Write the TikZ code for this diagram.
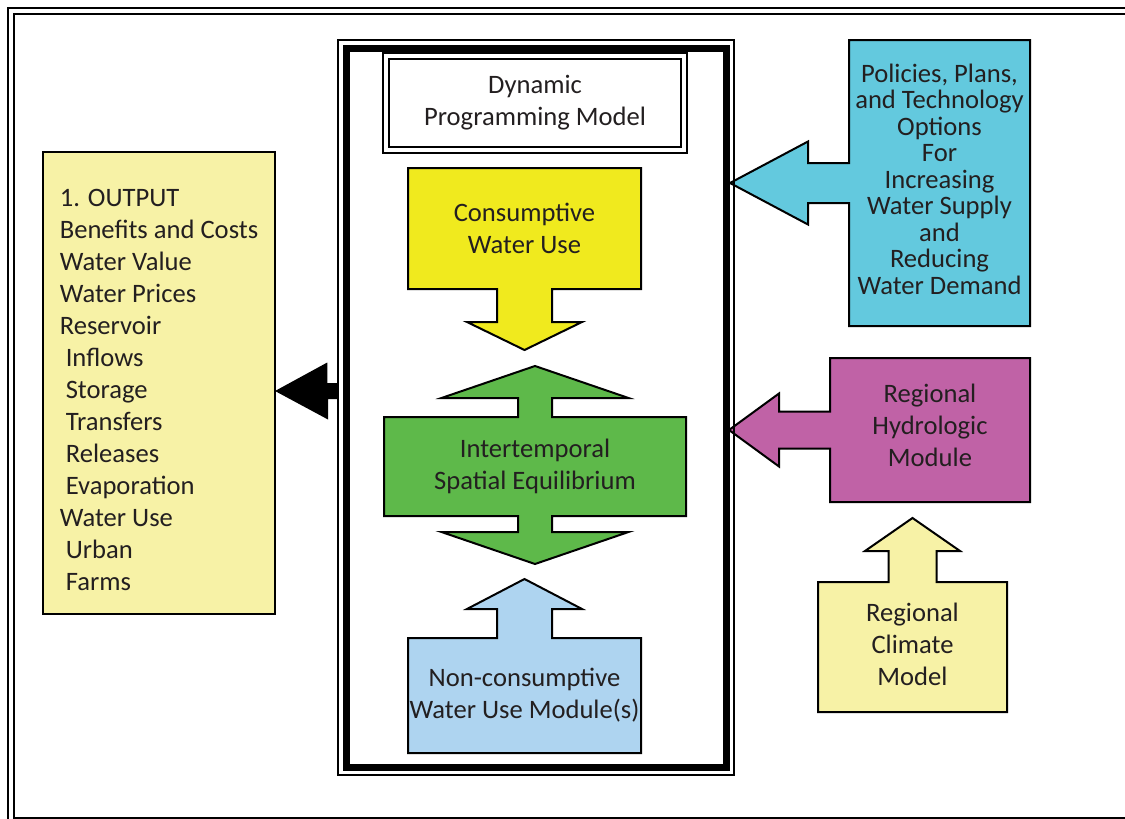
\documentclass[tikz,border=0pt]{standalone}
\usepackage{fontspec}
\setmainfont{Carlito}
\usetikzlibrary{calc,backgrounds}
\definecolor{ink}{RGB}{35,31,32}
\definecolor{paleyel}{RGB}{247,242,166}
\definecolor{sunyel}{RGB}{240,234,30}
\definecolor{leafgrn}{RGB}{94,185,74}
\definecolor{skyblu}{RGB}{174,212,240}
\definecolor{tealcyan}{RGB}{99,201,222}
\definecolor{plum}{RGB}{192,98,166}

\begin{document}
\begin{tikzpicture}[x=0.5pt,y=-0.5pt,
    box/.style={draw=none,inner sep=0pt,outer sep=0pt,align=center,text=ink,font=\fontsize{13.3}{16}\selectfont},
    shp/.style={draw=black,line width=1pt,line join=miter}]
  \useasboundingbox (0,0) rectangle (1125,819);
  \clip (0,0) rectangle (1125,819);

  % page frame
  \draw[line width=1pt] (8,8) rectangle (1140,840);
  \draw[line width=1pt] (13.5,13.5) rectangle (1135,817.5);

  % model frame
  \node[draw,line width=0.75pt,minimum width=198pt,minimum height=367.5pt] (frame) at (536,407.5) {};
  \node[draw,line width=3.5pt,minimum width=190pt,minimum height=359.25pt] (core) at (536.5,407.75) {};

  \node[box,draw=black,line width=0.9pt,double,double distance=2pt,minimum width=149pt,minimum height=47.25pt] (dp) at (535,103) {Dynamic\\Programming Model};

  \node[box,minimum width=116.5pt,minimum height=60.5pt] (cons) at (524.5,228.5) {Consumptive\\Water Use};
  \node[box,minimum width=151pt,minimum height=49.5pt] (eq) at (535,466.5) {Intertemporal\\Spatial Equilibrium};
  \node[box,minimum width=116.5pt,minimum height=57.5pt] (non) at (524.5,695.5) {Non-consumptive\\Water Use Module(s)};

  % inputs and output
  \node[box,draw=black,line width=1pt,fill=paleyel,align=left,minimum width=116pt,minimum height=231pt] (out) at (159,383)
    {\rule{0pt}{15.6pt}1. OUTPUT\\Benefits and Costs\\Water Value\\Water Prices\\Reservoir\\\hspace{3pt}Inflows\\\hspace{3pt}Storage\\\hspace{3pt}Transfers\\\hspace{3pt}Releases\\\hspace{3pt}Evaporation\\Water Use\\\hspace{3pt}Urban\\\hspace{3pt}Farms};
  \node[box,font=\fontsize{13.3}{13.25}\selectfont,minimum width=90.5pt,minimum height=143pt] (pol) at (939.5,183)
    {Policies, Plans,\\and Technology\\Options\\For\\Increasing\\Water Supply\\and\\Reducing\\Water Demand\rule[-4pt]{0pt}{4pt}};
  \node[box,minimum width=100pt,minimum height=72pt] (hyd) at (930,430) {Regional\\Hydrologic\\Module\rule[-5pt]{0pt}{5pt}};
  \node[box,minimum width=94.5pt,minimum height=65pt] (clim) at (912.5,647) {Regional\\Climate\\Model\rule[-3pt]{0pt}{3pt}};

  \begin{pgfonlayer}{background}
    \draw[shp,fill=sunyel] (cons.north west) -- (cons.north east) -- (cons.south east)
      -- ($(cons.south)+(27.5,0)$) -- ++(0,33) -- ++(30,0) -- ($(cons.south)+(0,61)$)
      -- ++(-57.5,-28) -- ++(30,0) -- ++(0,-33) -- (cons.south west) -- cycle;
    \draw[shp,fill=leafgrn] (eq.north west) -- ($(eq.north)+(-17,0)$) -- ++(0,-19) -- ++(-76.5,0)
      -- ($(eq.north)+(0,-51)$) -- ++(93.5,32) -- ++(-76.5,0) -- ++(0,19) -- (eq.north east)
      -- (eq.south east) -- ($(eq.south)+(17,0)$) -- ++(0,16) -- ++(76.5,0)
      -- ($(eq.south)+(0,48)$) -- ++(-93.5,-32) -- ++(76.5,0) -- ++(0,-16) -- (eq.south west) -- cycle;
    \draw[shp,fill=skyblu] (non.north west) -- ($(non.north)+(-27.5,0)$) -- ++(0,-29) -- ++(-30,0)
      -- ($(non.north)+(0,-59)$) -- ++(57.5,30) -- ++(-30,0) -- ++(0,29) -- (non.north east)
      -- (non.south east) -- (non.south west) -- cycle;
    \draw[shp,fill=tealcyan] (pol.north west) -- (pol.north east) -- (pol.south east) -- (pol.south west)
      -- ($(pol.west)+(0,20)$) -- ++(-41,0) -- ++(0,21.5) -- ($(pol.west)+(-119,0)$)
      -- ++(78,-41.5) -- ++(0,21.5) -- ++(41,0) -- cycle;
    \draw[shp,fill=plum] (hyd.north west) -- (hyd.north east) -- (hyd.south east) -- (hyd.south west)
      -- ($(hyd.west)+(0,18.5)$) -- ++(-51,0) -- ++(0,18) -- ($(hyd.west)+(-101,0)$)
      -- ++(50,-36.5) -- ++(0,18) -- ++(51,0) -- cycle;
    \draw[shp,fill=paleyel] (clim.north west) -- ($(clim.north)+(-24,0)$) -- ++(0,-31) -- ++(-23.5,0)
      -- ($(clim.north)+(0,-64)$) -- ++(47.5,33) -- ++(-23.5,0) -- ++(0,31) -- (clim.north east)
      -- (clim.south east) -- (clim.south west) -- cycle;
  \end{pgfonlayer}

  % result arrow
  \coordinate (arr) at ($(frame.west)+(0,-16.5)$);
  \fill (arr) ++(0,-8) -- ++(-10,0) -- ++(0,-20.5) -- (arr -| out.east) -- ++(53,28.5)
    -- ++(0,-20.5) -- ++(10,0) -- cycle;
\end{tikzpicture}
\end{document}
